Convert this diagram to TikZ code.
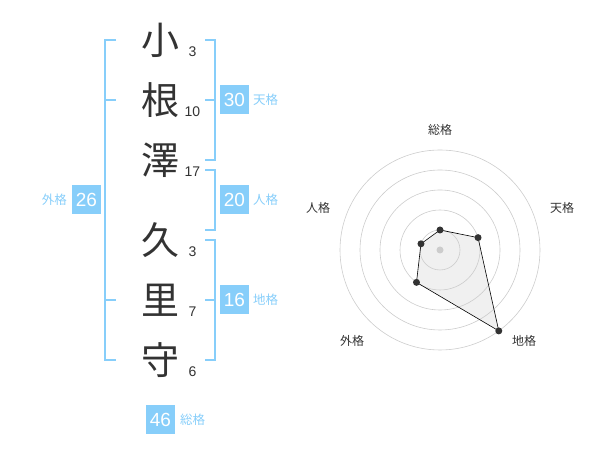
\documentclass[tikz,border=0pt]{standalone}
\usepackage{fontspec}
\setmainfont{Liberation Sans}
\newfontfamily\jpfont{Noto Sans CJK JP}
\usetikzlibrary{math}
\definecolor{kakublue}{HTML}{87CEFA}
\definecolor{inkgray}{HTML}{333333}
\definecolor{ringgray}{HTML}{CCCCCC}

\begin{document}
\begin{tikzpicture}[x=1pt,y=1pt,
    kanji/.style={font=\jpfont\fontsize{38}{38}\selectfont,text=inkgray,inner sep=0},
    strokes/.style={font=\fontsize{14}{14}\selectfont,text=inkgray,inner sep=0},
    kakubox/.style={fill=kakublue,text=white,minimum size=29pt,inner sep=0,font=\fontsize{19}{19}\selectfont},
    kakulabel/.style={text=kakublue,inner sep=0,font=\jpfont\fontsize{12.5}{12.5}\selectfont},
    bracket/.style={draw=kakublue,line width=1.8pt},
    radarlabel/.style={text=inkgray,inner sep=0,font=\jpfont\fontsize{12}{12}\selectfont}]
      \useasboundingbox(0,0)rectangle(600,470);
      
      % name column
      \foreach \i/\y/\k/\n in {1/430/小/3,2/370/根/10,3/310/澤/17,4/230/久/3,5/170/里/7,6/110/守/6}{
        \node[kanji](c\i) at (160,\y){\k};
        \node[strokes](n\i) at (192.5,\y-12){\n};
      }
      
      % brackets
      \draw[bracket](116,430)-|(105,110)--(116,110) (105,370)--(116,370) (105,170)--(116,170);
      \draw[bracket](205,430)-|(215,310)--(205,310) (215,370)--(205,370);
      \draw[bracket](205,300)-|(215,240)--(205,240);
      \draw[bracket](205,230)-|(215,110)--(205,110) (215,170)--(205,170);
      
      % kaku values
      \node[kakubox](ten) at (234.5,370){30};
      \node[kakulabel,anchor=west](tenL) at (253,370){天格};
      \node[kakubox](jin) at (234.5,270){20};
      \node[kakulabel,anchor=west](jinL) at (253,270){人格};
      \node[kakubox](chi) at (234.5,170){16};
      \node[kakulabel,anchor=west](chiL) at (253,170){地格};
      \node[kakubox](gai) at (86.5,270){26};
      \node[kakulabel,anchor=east](gaiL) at (67,270){外格};
      \node[kakubox](sou) at (160.5,50){46};
      \node[kakulabel,anchor=west](souL) at (180,50){総格};
      
      % radar
      \coordinate(O) at (440,220);
      \foreach \a/\v/\nm in {90/1/sou,18/2/ten,-54/5/chi,-126/2/gai,162/1/jin}
        \coordinate(p\nm) at ([shift={(\a:{\v*20})}]O);
      \fill[black!6](psou)--(pten)--(pchi)--(pgai)--(pjin)--cycle;
      \foreach \r in {20,40,...,100}
        \draw[ringgray,line width=0.6pt](O)circle(\r);
      \fill[ringgray](O)circle(3.5);
      \draw[black,line width=0.6pt](psou)--(pten)--(pchi)--(pgai)--(pjin)--cycle;
      \foreach \nm in {sou,ten,chi,gai,jin}
        \fill[inkgray](p\nm)circle(3.5);
      \foreach \dx/\dy/\t/\nm in {0/120/総格/sou,122/42/天格/ten,84/-91/地格/chi,-88/-91/外格/gai,-122/42/人格/jin}
        \node[radarlabel](r\nm) at ([shift={(\dx,\dy)}]O){\t};
    \end{tikzpicture}
\end{document}
